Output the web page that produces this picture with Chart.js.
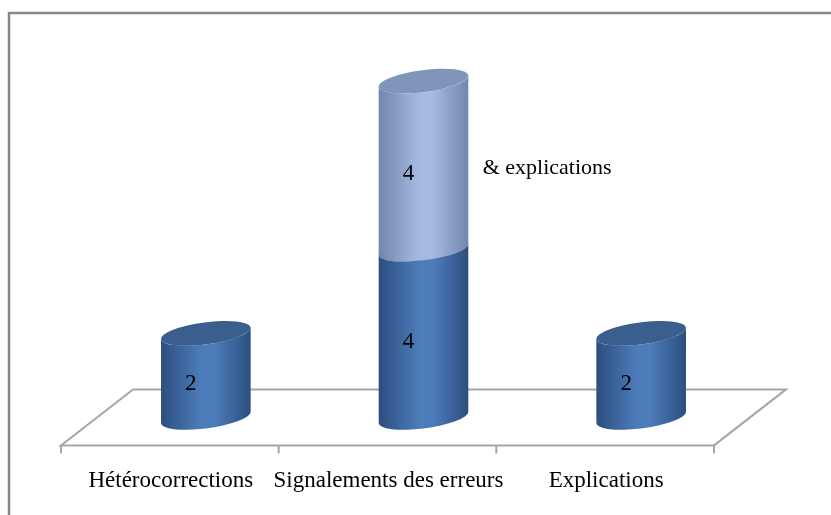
<!DOCTYPE html>
<html lang="fr">
<head>
    <meta charset="UTF-8">
    <title>Hétérocorrections</title>
    <script src="https://cdn.jsdelivr.net/npm/chart.js"></script>
    <style>
        body { margin: 0; background: #fff; }
        .chart-container { width: 831px; height: 515px; }
    </style>
</head>
<body>
    <div class="chart-container">
        <canvas id="chart"></canvas>
    </div>

    <script>
        const categories = ['Hétérocorrections', 'Signalements des erreurs', 'Explications'];
        const seriesNames = ['Série 1', '& explications'];
        const baseValues = [2, 4, 2];
        const extraValues = [0, 4, 0];

        // colours of the two stacked cylinders: edge, centre, top cap
        const shades = [
            { edge: '#2c4e7e', mid: '#4d7cba', cap: '#3a5e8e' },
            { edge: '#7285ab', mid: '#a5bbe2', cap: '#8095ba' }
        ];
        const depth = 36;
        const tilt = -0.13;

        function cylinder(ctx, x, top, base, w, shade) {
            const a = w / 2, b = 11;
            const tr = Math.atan(-b * Math.tan(tilt) / a);
            const pt = (cy, t) => [
                x + a * Math.cos(t) * Math.cos(tilt) - b * Math.sin(t) * Math.sin(tilt),
                cy + a * Math.cos(t) * Math.sin(tilt) + b * Math.sin(t) * Math.cos(tilt)
            ];
            const g = ctx.createLinearGradient(x - a, 0, x + a, 0);
            g.addColorStop(0, shade.edge);
            g.addColorStop(0.45, shade.mid);
            g.addColorStop(0.6, shade.mid);
            g.addColorStop(1, shade.edge);

            ctx.beginPath();
            let p = pt(top, tr + Math.PI);
            ctx.moveTo(p[0], p[1]);
            p = pt(base, tr + Math.PI);
            ctx.lineTo(p[0], p[1]);
            ctx.ellipse(x, base, a, b, tilt, tr + Math.PI, tr, true);
            p = pt(top, tr);
            ctx.lineTo(p[0], p[1]);
            ctx.ellipse(x, top, a, b, tilt, tr, tr + Math.PI, false);
            ctx.closePath();
            ctx.fillStyle = g;
            ctx.fill();

            ctx.beginPath();
            ctx.ellipse(x, top, a, b, tilt, 0, Math.PI * 2);
            ctx.fillStyle = shade.cap;
            ctx.fill();
        }

        const cylinderPlugin = {
            id: 'cylinders',
            beforeDatasetsDraw(chart) {
                const ctx = chart.ctx;
                const area = chart.chartArea;
                const y0 = chart.scales.y.getPixelForValue(0);
                ctx.save();
                // outer frame
                ctx.strokeStyle = '#878787';
                ctx.lineWidth = 2.5;
                ctx.beginPath();
                ctx.moveTo(9, 515);
                ctx.lineTo(9, 13);
                ctx.lineTo(831, 13);
                ctx.stroke();
                // floor
                const fl = area.left - depth, fr = area.right - depth;
                ctx.strokeStyle = '#a6a6a6';
                ctx.lineWidth = 2;
                ctx.beginPath();
                ctx.moveTo(fl, y0 + 28);
                ctx.lineTo(fr, y0 + 28);
                ctx.lineTo(area.right + depth, y0 - 28);
                ctx.lineTo(area.left + depth, y0 - 28);
                ctx.closePath();
                ctx.stroke();
                ctx.beginPath();
                for (let i = 0; i <= categories.length; i++) {
                    const tx = fl + i * (fr - fl) / categories.length;
                    ctx.moveTo(tx, y0 + 28);
                    ctx.lineTo(tx, y0 + 36);
                }
                ctx.stroke();
                ctx.restore();
            },
            afterDatasetsDraw(chart) {
                const ctx = chart.ctx;
                ctx.save();
                chart.data.datasets.forEach((ds, di) => {
                    chart.getDatasetMeta(di).data.forEach((el, i) => {
                        if (!ds.data[i]) return;
                        const p = el.getProps(['x', 'y', 'base', 'width'], true);
                        cylinder(ctx, p.x, p.y, p.base, p.width, shades[di]);
                    });
                });
                ctx.fillStyle = '#000';
                ctx.textBaseline = 'middle';
                ctx.font = '23px "Liberation Serif"';
                chart.data.datasets.forEach((ds, di) => {
                    chart.getDatasetMeta(di).data.forEach((el, i) => {
                        if (!ds.data[i]) return;
                        const p = el.getProps(['x', 'y', 'base', 'width'], true);
                        const mid = (p.y + p.base) / 2;
                        ctx.textAlign = 'center';
                        ctx.fillText(String(ds.data[i]), p.x - 15, mid + 9);
                        if (di === 1) {
                            ctx.textAlign = 'left';
                            ctx.font = '22px "Liberation Serif"';
                            ctx.fillText(ds.label, p.x + p.width / 2 + 14, mid + 3);
                        }
                    });
                });
                ctx.restore();
            }
        };

        new Chart(document.getElementById('chart'), {
            type: 'bar',
            data: {
                labels: categories,
                datasets: [
                    { label: seriesNames[0], data: baseValues, backgroundColor: 'rgba(0,0,0,0)' },
                    { label: seriesNames[1], data: extraValues, backgroundColor: 'rgba(0,0,0,0)' }
                ]
            },
            options: {
                responsive: true,
                maintainAspectRatio: false,
                animation: false,
                layout: { padding: { left: 97, right: 81, top: 39, bottom: -30 } },
                datasets: { bar: { categoryPercentage: 1, barPercentage: 0.415 } },
                plugins: { legend: { display: false }, tooltip: { enabled: false } },
                scales: {
                    x: {
                        stacked: true,
                        grid: { display: false, drawTicks: false },
                        border: { display: false },
                        ticks: {
                            padding: 50,
                            labelOffset: -35,
                            autoSkip: false,
                            maxRotation: 0,
                            minRotation: 0,
                            color: '#000',
                            font: { family: 'Liberation Serif', size: 23 }
                        }
                    },
                    y: { stacked: true, display: false, min: 0, max: 9 }
                }
            },
            plugins: [cylinderPlugin]
        });
    </script>
</body>
</html>
